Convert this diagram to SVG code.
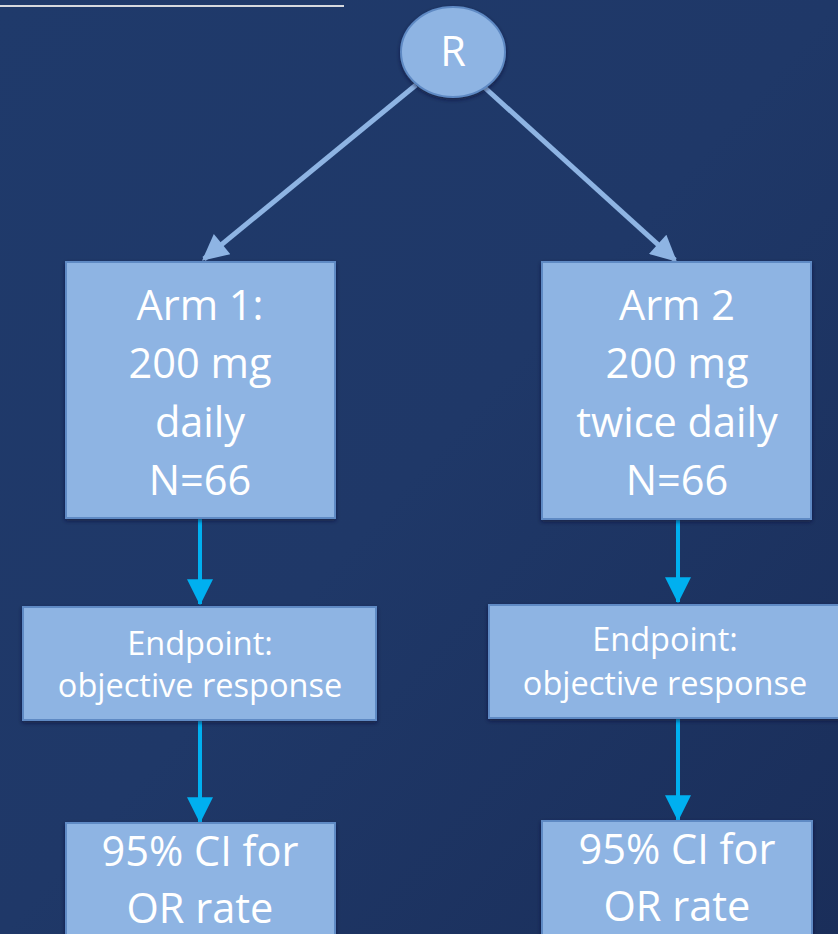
<svg xmlns="http://www.w3.org/2000/svg" width="838" height="934" viewBox="0 0 838 934">
  <defs>
    <linearGradient id="bg" x1="0" y1="0" x2="1" y2="1">
      <stop offset="0" stop-color="#1f3a6b"/>
      <stop offset="0.5" stop-color="#1f3868"/>
      <stop offset="1" stop-color="#1a2e5a"/>
    </linearGradient>
    <filter id="shadow" x="-10%" y="-10%" width="120%" height="130%">
      <feDropShadow dx="0" dy="2" stdDeviation="2" flood-color="#0b1630" flood-opacity="0.6"/>
    </filter>
    <marker id="headLight" viewBox="0 0 10 10" refX="9" refY="5" markerWidth="6" markerHeight="5.2" markerUnits="strokeWidth" orient="auto">
      <path d="M0,0 L10,5 L0,10 z" fill="#8eb4e3"/>
    </marker>
    <marker id="headCyan" viewBox="0 0 10 10" refX="9.5" refY="5" markerWidth="6.75" markerHeight="6.5" markerUnits="strokeWidth" orient="auto">
      <path d="M0,0 L10,5 L0,10 z" fill="#00b0f0"/>
    </marker>
  </defs>
  <style>
    .box { fill: #8eb4e3; stroke: #5f8ac4; stroke-width: 2; filter: url(#shadow); }
    .big { font-family: "Open Sans", Lato, "Liberation Sans", sans-serif; font-size: 41.5px; fill: #ffffff; text-anchor: middle; }
    .small { font-family: "Open Sans", Lato, "Liberation Sans", sans-serif; font-size: 32.5px; fill: #ffffff; text-anchor: middle; }
    .light { stroke: #8eb4e3; stroke-width: 5; fill: none; }
    .cyan { stroke: #00b0f0; stroke-width: 4; fill: none; }
  </style>

  <rect width="838" height="934" fill="url(#bg)"/>
  <line x1="0" y1="6" x2="344" y2="6" stroke="#d6d9de" stroke-width="2"/>

  <g id="connectors">
    <line class="light" x1="416" y1="85" x2="204" y2="259" marker-end="url(#headLight)"/>
    <line class="light" x1="484" y1="87" x2="675" y2="260" marker-end="url(#headLight)"/>
    <line class="cyan" x1="200" y1="519" x2="200" y2="604" marker-end="url(#headCyan)"/>
    <line class="cyan" x1="678" y1="519" x2="678" y2="602" marker-end="url(#headCyan)"/>
    <line class="cyan" x1="200" y1="720" x2="200" y2="822" marker-end="url(#headCyan)"/>
    <line class="cyan" x1="678" y1="718" x2="678" y2="820" marker-end="url(#headCyan)"/>
  </g>

  <g id="randomize">
    <ellipse cx="453" cy="52" rx="52" ry="45" fill="#8eb4e3" stroke="#5f8ac4" stroke-width="2" filter="url(#shadow)"/>
    <text class="big" x="453" y="66" font-size="39">R</text>
  </g>

  <g id="arm1">
    <rect class="box" x="66" y="262" width="269" height="256"/>
    <text class="big" x="200" y="320">Arm 1:</text>
    <text class="big" x="200" y="378">200 mg</text>
    <text class="big" x="200" y="437">daily</text>
    <text class="big" x="200" y="495">N=66</text>
  </g>

  <g id="arm2">
    <rect class="box" x="542" y="262" width="269" height="257"/>
    <text class="big" x="677" y="320">Arm 2</text>
    <text class="big" x="677" y="378">200 mg</text>
    <text class="big" x="677" y="437">twice daily</text>
    <text class="big" x="677" y="495">N=66</text>
  </g>

  <g id="endpoint1">
    <rect class="box" x="23" y="607" width="353" height="113"/>
    <text class="small" x="200" y="655">Endpoint:</text>
    <text class="small" x="200" y="697">objective response</text>
  </g>

  <g id="endpoint2">
    <rect class="box" x="489" y="605" width="352" height="113"/>
    <text class="small" x="665" y="651">Endpoint:</text>
    <text class="small" x="665" y="695">objective response</text>
  </g>

  <g id="ci1">
    <rect class="box" x="66" y="823" width="269" height="120"/>
    <text class="big" x="200" y="866">95% CI for</text>
    <text class="big" x="200" y="923">OR rate</text>
  </g>

  <g id="ci2">
    <rect class="box" x="542" y="821" width="270" height="120"/>
    <text class="big" x="677" y="864">95% CI for</text>
    <text class="big" x="677" y="921">OR rate</text>
  </g>
</svg>
